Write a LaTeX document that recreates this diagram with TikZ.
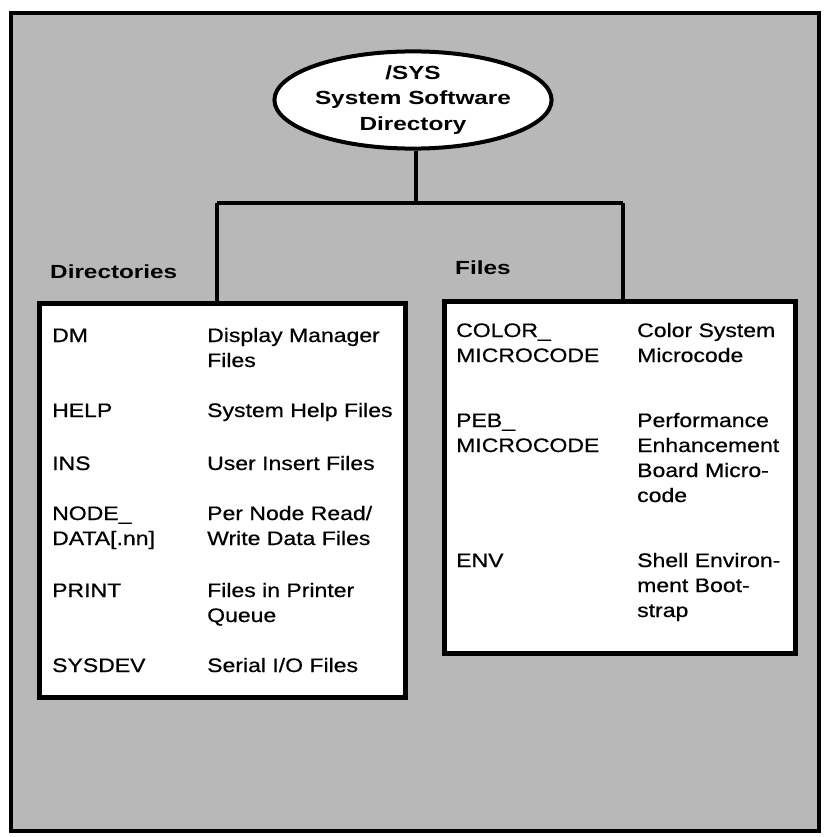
\documentclass[tikz,border=0pt]{standalone}
\usepackage{fontspec}
\setmainfont{Liberation Sans}
\newfontfamily\bodyfont{Liberation Sans}[FakeStretch=1.18, FakeBold=0.6]
\newfontfamily\headfont{Liberation Sans}[FakeStretch=1.28]
\usetikzlibrary{shapes.geometric}
\begin{document}
\begin{tikzpicture}[x=1pt,y=-1pt,
  frame/.style={draw=black, line width=4pt, fill=black!28, inner sep=0pt, anchor=north west},
  box/.style={draw=black, line width=4.5pt, fill=white, inner sep=0pt, anchor=north west},
  link/.style={draw=black, line width=4pt},
  entry/.style={font=\bodyfont\fontsize{19.5}{25}\selectfont, align=left, anchor=base west, inner sep=0pt},
  head/.style={font=\headfont\bfseries\fontsize{19}{25}\selectfont, anchor=base west, inner sep=0pt},
  sysnode/.style={ellipse, draw=black, line width=4pt, fill=white, minimum width=236pt, minimum height=88pt,
    inner sep=0pt, align=center, font=\headfont\bfseries\fontsize{19}{25.5}\selectfont}]
\useasboundingbox (0,0) rectangle (829,837);
% outer frame
\node[frame, minimum width=808pt, minimum height=818pt] (frame) at (9,11) {};
% root
\node[sysnode] (sys) at (413,100) {/SYS\\System Software\\Directory};
% boxes
\node[box, minimum width=366pt, minimum height=394pt] (dirbox) at (37,301) {};
\node[box, minimum width=351pt, minimum height=352pt] (filebox) at (442,299) {};
% connectors
\coordinate (jl) at (217,203);
\coordinate (jr) at (623,203);
\coordinate (jm) at (416,203);
\draw[link] (sys.south -| jm) -- (jm);
\draw[link] (jl) -- (jr);
\draw[link] (jl) -- (jl |- dirbox.north);
\draw[link] (jr) -- (jr |- filebox.north);
% headings
\node[head] (hdir) at (50,278) {Directories};
\node[head] (hfiles) at (455,274) {Files};
% directories (anchor = baseline of last line)
\node[entry] (dm) at (52,342) {DM};
\node[entry] (dmd) at (207,367) {Display Manager\\Files};
\node[entry] (help) at (52,417) {HELP};
\node[entry] (helpd) at (207,417) {System Help Files};
\node[entry] (ins) at (52,470) {INS};
\node[entry] (insd) at (207,470) {User Insert Files};
\node[entry] (nd) at (52,545) {NODE\_\\DATA[.nn]};
\node[entry] (ndd) at (207,545) {Per Node Read/\\Write Data Files};
\node[entry] (pr) at (52,597) {PRINT};
\node[entry] (prd) at (207,622) {Files in Printer\\Queue};
\node[entry] (sd) at (52,672) {SYSDEV};
\node[entry] (sdd) at (207,672) {Serial I/O Files};
% files
\node[entry] (cm) at (456,362) {COLOR\_\\MICROCODE};
\node[entry] (cmd) at (637,362) {Color System\\Microcode};
\node[entry] (pm) at (456,452) {PEB\_\\MICROCODE};
\node[entry] (pmd) at (637,502) {Performance\\Enhancement\\Board Micro-\\code};
\node[entry] (env) at (456,567) {ENV};
\node[entry] (envd) at (637,617) {Shell Environ-\\ment Boot-\\strap};
\end{tikzpicture}
\end{document}
